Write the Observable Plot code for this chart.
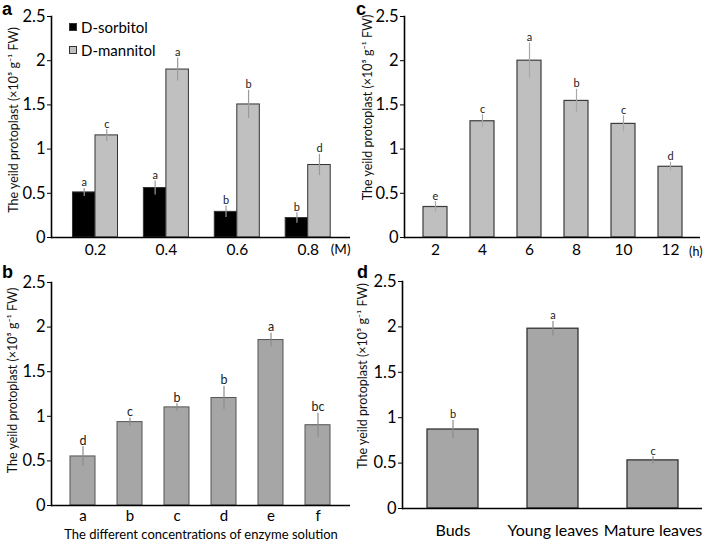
<!DOCTYPE html>
<html><head><meta charset="utf-8">
<script src="https://cdn.jsdelivr.net/npm/d3@7"></script>
<script src="https://cdn.jsdelivr.net/npm/@observablehq/plot@0.6"></script>
<style>
body{margin:0;background:#fff;}
#root{position:relative;width:709px;height:542px;overflow:hidden;font-family:Lato,"Noto Sans","DejaVu Sans",sans-serif;}
.tag{position:absolute;font-family:"Liberation Sans",Arial,sans-serif;font-weight:bold;font-size:18px;line-height:16px;}
.legend{position:absolute;left:69px;top:15px;font-size:15px;color:#000;}
.legend div{display:flex;align-items:center;height:23px;}
.legend .sw{display:inline-block;width:8px;height:8px;margin-right:4px;box-sizing:border-box;border:1px solid #333;}
</style></head><body><div id="root"></div>
<script>
// ---------- data ----------
const yTicks = [0, 0.5, 1, 1.5, 2, 2.5];
const yTitle = "The yeild protoplast (×10⁵ g⁻¹ FW)";

// Panel a
const concA = [0.2, 0.4, 0.6, 0.8];
const seriesA = ["D-sorbitol", "D-mannitol"];
const sorbitolA = [0.51, 0.56, 0.29, 0.22];
const sorbitolErrA = [0.045, 0.08, 0.065, 0.06];
const sorbitolSigA = ["a", "a", "b", "b"];
const mannitolA = [1.155, 1.90, 1.505, 0.82];
const mannitolErrA = [0.065, 0.13, 0.16, 0.12];
const mannitolSigA = ["c", "a", "b", "d"];

// Panel b
const enzymeB = ["a", "b", "c", "d", "e", "f"];
const yieldB = [0.55, 0.935, 1.10, 1.205, 1.855, 0.90];
const errB = [0.11, 0.045, 0.04, 0.13, 0.075, 0.135];
const sigB = ["d", "c", "b", "b", "a", "bc"];
const xTitleB = "The different concentrations of enzyme solution";

// Panel c
const hoursC = [2, 4, 6, 8, 10, 12];
const yieldC = [0.345, 1.315, 2.0, 1.545, 1.285, 0.80];
const errC = [0.06, 0.075, 0.2, 0.13, 0.09, 0.05];
const sigC = ["e", "c", "a", "b", "c", "d"];

// Panel d
const tissueD = ["Buds", "Young leaves", "Mature leaves"];
const yieldD = [0.87, 1.98, 0.53];
const errD = [0.1, 0.08, 0.04];
const sigD = ["b", "a", "c"];

// ---------- helpers ----------
const FONT = 'Lato, "Noto Sans", "DejaVu Sans", sans-serif';
const root = document.getElementById("root");
function place(el, left, top) {
  el.style.position = "absolute";
  el.style.left = left + "px";
  el.style.top = top + "px";
  root.appendChild(el);
}
function yMarks(ldx, ldy) {
  return [
    Plot.ruleY([0], {stroke: "#000", strokeWidth: 1.6}),
    Plot.frame({anchor: "left", stroke: "#000", strokeWidth: 1.6}),
    Plot.axisY({ticks: yTicks, tickFormat: d => String(d), tickSize: 4, tickPadding: 2, fontSize: 16.5, label: null}),
    Plot.text([yTitle], {text: d => d, frameAnchor: "left", textAnchor: "middle", lineAnchor: "middle", rotate: -90, dx: ldx, dy: ldy, fontSize: 12.5, fill: "#111"})
  ];
}
const style = {fontFamily: FONT, color: "#000", background: "transparent", overflow: "visible"};

// ---------- panel a ----------
const rowsA = concA.flatMap((c, i) => [
  {conc: c, series: seriesA[0], v: sorbitolA[i], e: sorbitolErrA[i], sig: sorbitolSigA[i], side: -1},
  {conc: c, series: seriesA[1], v: mannitolA[i], e: mannitolErrA[i], sig: mannitolSigA[i], side: 1}
]);
const BW = 0.0635;
const cx = d => d.conc + d.side * BW / 2;
const plotA = Plot.plot({
  width: 355, height: 266, marginLeft: 51, marginRight: 5, marginTop: 16, marginBottom: 29,
  x: {domain: [0.0759, 0.9193]},
  y: {domain: [0, 2.5]},
  color: {domain: seriesA, range: ["#000000", "#c0c0c0"]},
  style,
  marks: [
    Plot.rectY(rowsA, {x1: d => d.side < 0 ? d.conc - BW : d.conc, x2: d => d.side < 0 ? d.conc : d.conc + BW, y1: 0, y2: "v", fill: "series", stroke: "#333", strokeWidth: 1}),
    Plot.ruleX(rowsA, {x: cx, y1: d => d.v - d.e, y2: d => d.v + d.e, stroke: "#9a9a9a", strokeWidth: 1.2}),
    Plot.text(rowsA, {x: cx, y: d => d.v + d.e, text: "sig", lineAnchor: "bottom", dy: -2, fontSize: 11, fill: "#222"}),
    Plot.axisX({ticks: concA, tickFormat: d3.format(".1f"), tickSize: 0, tickPadding: 6.5, fontSize: 15.5, label: null}),
    Plot.text(["(M)"], {text: d => d, frameAnchor: "bottom-right", textAnchor: "end", lineAnchor: "middle", dy: 12.5, fontSize: 13.5}),
    ...yMarks(-38, -7)
  ]
});
place(plotA, 0, 0);

// ---------- panel b ----------
const rowsB = enzymeB.map((k, i) => ({k, v: yieldB[i], e: errB[i], sig: sigB[i]}));
const plotB = Plot.plot({
  width: 355, height: 276, marginLeft: 51, marginRight: 5, marginTop: 16, marginBottom: 37,
  x: {type: "band", domain: enzymeB, paddingInner: 0.46, paddingOuter: 0.39},
  y: {domain: [0, 2.5]},
  style,
  marks: [
    Plot.barY(rowsB, {x: "k", y: "v", fill: "#a6a6a6", stroke: "#555", strokeWidth: 1}),
    Plot.ruleX(rowsB, {x: "k", y1: d => d.v - d.e, y2: d => d.v + d.e, stroke: "#8c8c8c", strokeWidth: 1.2}),
    Plot.text(rowsB, {x: "k", y: d => d.v + d.e, text: "sig", lineAnchor: "bottom", dy: -2, fontSize: 12.5, fill: "#222"}),
    Plot.axisX({tickSize: 0, tickPadding: 4.5, fontSize: 15, label: null}),
    Plot.text([xTitleB], {text: d => d, frameAnchor: "bottom", lineAnchor: "middle", dy: 29.5, fontSize: 13}),
    ...yMarks(-38.5, -13.5)
  ]
});
place(plotB, 0, 266);

// ---------- panel c ----------
const rowsC = hoursC.map((h, i) => ({h, v: yieldC[i], e: errC[i], sig: sigC[i]}));
const plotC = Plot.plot({
  width: 355, height: 266, marginLeft: 50, marginRight: 9, marginTop: 16, marginBottom: 29,
  x: {type: "band", domain: hoursC, paddingInner: 0.49, paddingOuter: 0.335},
  y: {domain: [0, 2.5]},
  style,
  marks: [
    Plot.barY(rowsC, {x: "h", y: "v", fill: "#bfbfbf", stroke: "#3c3c3c", strokeWidth: 1.2}),
    Plot.ruleX(rowsC, {x: "h", y1: d => d.v - d.e, y2: d => d.v + d.e, stroke: "#a8a8a8", strokeWidth: 1.2}),
    Plot.text(rowsC, {x: "h", y: d => d.v + d.e, text: "sig", lineAnchor: "bottom", dy: -2, fontSize: 11, fill: "#222"}),
    Plot.axisX({tickSize: 0, tickPadding: 6.5, fontSize: 15.5, label: null}),
    Plot.text(["(h)"], {text: d => d, frameAnchor: "bottom-right", textAnchor: "end", lineAnchor: "middle", dy: 14, dx: 2, fontSize: 12.5}),
    ...yMarks(-36.5, -19.5)
  ]
});
place(plotC, 354, 0);

// ---------- panel d ----------
const rowsD = tissueD.map((t, i) => ({t, v: yieldD[i], e: errD[i], sig: sigD[i]}));
const plotD = Plot.plot({
  width: 355, height: 276, marginLeft: 48, marginRight: 7, marginTop: 15, marginBottom: 34,
  x: {type: "band", domain: tissueD, paddingInner: 0.49, paddingOuter: 0.245},
  y: {domain: [0, 2.5]},
  style,
  marks: [
    Plot.barY(rowsD, {x: "t", y: "v", fill: "#a6a6a6", stroke: "#333", strokeWidth: 1.3}),
    Plot.ruleX(rowsD, {x: "t", y1: d => d.v - d.e, y2: d => d.v + d.e, stroke: "#8c8c8c", strokeWidth: 1.2}),
    Plot.text(rowsD, {x: "t", y: d => d.v + d.e, text: "sig", lineAnchor: "bottom", dy: -2, fontSize: 11, fill: "#222"}),
    Plot.axisX({tickSize: 0, tickPadding: 16, fontSize: 16, label: null}),
    ...yMarks(-39.7, -19)
  ]
});
place(plotD, 354, 266);

// ---------- panel tags and legend ----------
[["a", 2, 1], ["c", 356, 1], ["b", 2, 264], ["d", 357, 264]].forEach(([t, l, tp]) => {
  const s = document.createElement("div");
  s.className = "tag"; s.textContent = t;
  s.style.left = l + "px"; s.style.top = tp + "px";
  root.appendChild(s);
});
const lg = document.createElement("div");
lg.className = "legend";
lg.innerHTML = seriesA.map((s, i) =>
  `<div><span class="sw" style="background:${["#000000", "#c0c0c0"][i]}"></span>${s}</div>`).join("");
root.appendChild(lg);
</script>
</body></html>
